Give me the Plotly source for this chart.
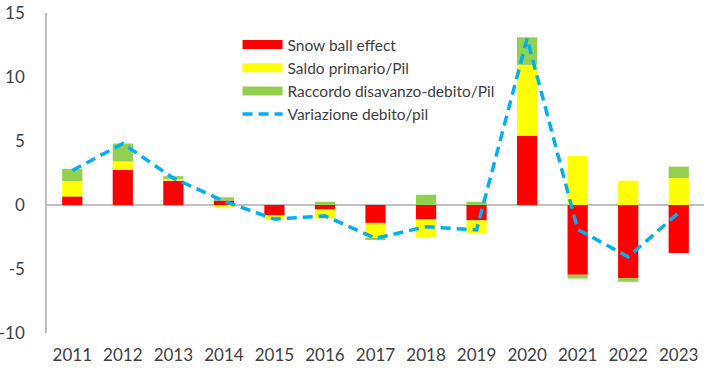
import plotly.graph_objects as go

years = ["2011", "2012", "2013", "2014", "2015", "2016", "2017", "2018", "2019", "2020", "2021", "2022", "2023"]
snow_ball = [0.67, 2.75, 1.9, 0.35, -0.8, -0.35, -1.4, -1.1, -1.2, 5.4, -5.45, -5.7, -3.75]
saldo_primario = [1.2, 0.65, 0.2, -0.1, -0.35, -0.7, -1.2, -1.4, -1.0, 5.55, 3.85, 1.9, 2.1]
raccordo = [0.95, 1.4, 0.15, 0.25, 0.0, 0.25, -0.1, 0.8, 0.25, 2.15, -0.3, -0.3, 0.9]
variazione = [2.7, 4.8, 2.1, 0.3, -1.1, -0.85, -2.6, -1.7, -1.95, 13.0, -1.9, -4.05, -0.6]
y_ticks = [-10, -5, 0, 5, 10, 15]
y_ticktext = ["-10", "-5", "0", "5", "10", "15"]

names = ["Snow ball effect", "Saldo primario/Pil", "Raccordo disavanzo-debito/Pil", "Variazione debito/pil"]
colors = ["#FF0000", "#FFFF00", "#92D050", "#00B0F0"]

fig = go.Figure()
for vals, nm, col in zip([snow_ball, saldo_primario, raccordo], names[:3], colors[:3]):
    fig.add_trace(go.Bar(x=years, y=vals, name=nm, marker=dict(color=col, line=dict(width=0)),
                         width=0.4, showlegend=False))
fig.add_trace(go.Scatter(x=years, y=variazione, mode="lines", name=names[3], showlegend=False,
                         line=dict(color=colors[3], width=3.5, dash="10px,6px")))
# legend entries
for nm, col in zip(names[:3], colors[:3]):
    fig.add_trace(go.Scatter(x=[None], y=[None], mode="lines", name=nm,
                             line=dict(color=col, width=9)))
fig.add_trace(go.Scatter(x=[None], y=[None], mode="lines", name=names[3],
                         line=dict(color=colors[3], width=3.5, dash="10px,6px")))

font_family = "Lato, 'Open Sans', sans-serif"
fig.update_layout(
    width=707, height=377,
    margin=dict(l=47, r=3, t=13, b=44),
    barmode="relative",
    bargap=0.6,
    plot_bgcolor="white", paper_bgcolor="white",
    font=dict(family=font_family, color="#404040", size=15),
    legend=dict(x=0.29, y=0.953, xanchor="left", yanchor="top", bgcolor="rgba(0,0,0,0)",
                font=dict(size=15.5, color="#404040"), itemwidth=40, tracegroupgap=0),
    xaxis=dict(showline=False, showgrid=False, ticks="", tickfont=dict(size=17),
               zeroline=False, automargin=False, ticklabelstandoff=10),
    yaxis=dict(range=[-10, 15], tickvals=y_ticks, ticktext=y_ticktext, showgrid=False,
               showline=True, linecolor="#BFBFBF", linewidth=1.5, ticks="", ticklen=0,
               zeroline=True, zerolinecolor="#BFBFBF", zerolinewidth=1.5,
               tickfont=dict(size=17), ticklabelstandoff=17, automargin=False),
)
fig.write_html("out.html", config={"displayModeBar": False},
               post_script="document.body.style.margin='0';document.body.style.overflow='hidden';")
